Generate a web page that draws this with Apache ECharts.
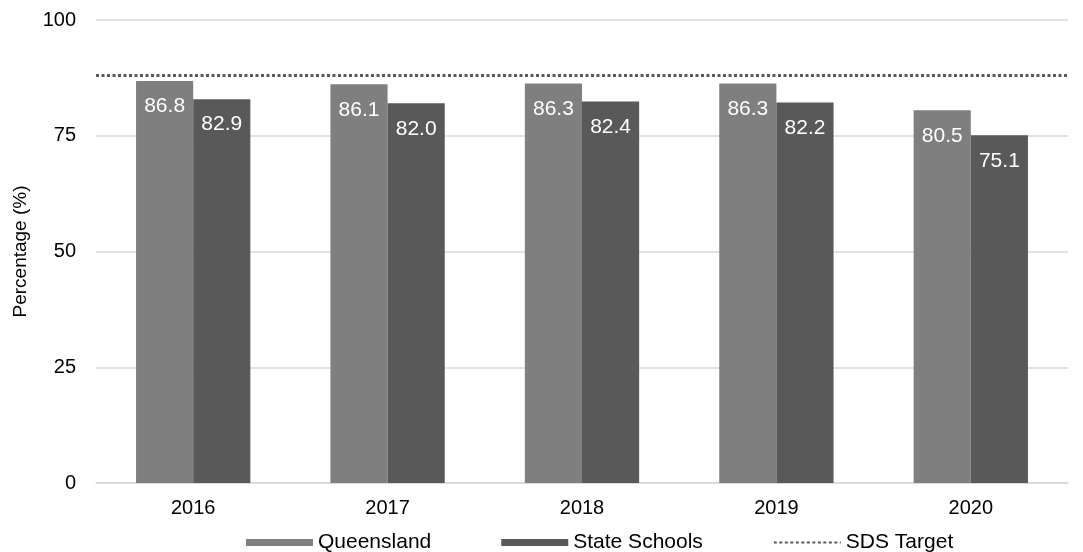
<!DOCTYPE html>
<html>
<head>
<meta charset="utf-8">
<script src="https://cdn.jsdelivr.net/npm/echarts@6/dist/echarts.min.js"></script>
<style>
  html, body { margin: 0; padding: 0; background: #fff; }
  #chart { width: 1083px; height: 552px; }
</style>
</head>
<body>
<div id="chart"></div>
<script>
var years = ['2016', '2017', '2018', '2019', '2020'];
var queensland = [86.8, 86.1, 86.3, 86.3, 80.5];
var stateSchools = [82.9, 82.0, 82.4, 82.2, 75.1];
var sdsTarget = 88;
var yTicks = [0, 25, 50, 75, 100];

var chart = echarts.init(document.getElementById('chart'));
var font = 'Liberation Sans, Arial, sans-serif';

// white value labels sitting just under the bar top
var barLabel = {
    show: true,
    position: 'insideTop',
    distance: 15,
    color: '#fff',
    fontSize: 21,
    fontFamily: font,
    formatter: function (p) { return p.value.toFixed(1); }
};

var option = {
    animation: false,
    textStyle: { fontFamily: font },
    grid: { left: 96, right: 15, top: 20, bottom: 69 },
    legend: {
        left: 241,
        top: 527,
        itemWidth: 67,
        itemHeight: 7,
        itemGap: 70,
        textStyle: { fontSize: 21, color: '#000', fontFamily: font },
        data: [
            { name: 'Queensland', icon: 'rect' },
            { name: 'State Schools', icon: 'rect' },
            { name: 'SDS Target' }
        ]
    },
    xAxis: {
        type: 'category',
        data: years,
        axisLine: { lineStyle: { color: '#d9d9d9', width: 1.5 } },
        axisTick: { show: false },
        axisLabel: { color: '#000', fontSize: 20, margin: 15 }
    },
    yAxis: {
        type: 'value',
        min: yTicks[0],
        max: yTicks[yTicks.length - 1],
        interval: 25,
        name: 'Percentage (%)',
        nameLocation: 'middle',
        nameGap: 66,
        nameTextStyle: { color: '#000', fontSize: 19 },
        axisLine: { show: false },
        axisTick: { show: false },
        axisLabel: { color: '#000', fontSize: 20, margin: 20 },
        splitLine: { lineStyle: { color: '#d9d9d9', width: 1.5 } }
    },
    series: [
        {
            name: 'Queensland',
            type: 'bar',
            data: queensland,
            barWidth: '29.4%',
            barGap: '0%',
            itemStyle: { color: '#7f7f7f' },
            label: barLabel
        },
        {
            name: 'State Schools',
            type: 'bar',
            data: stateSchools,
            barWidth: '29.4%',
            itemStyle: { color: '#595959' },
            label: barLabel
        },
        {
            name: 'SDS Target',
            type: 'line',
            data: [],
            symbol: 'none',
            showSymbol: false,
            itemStyle: { color: '#595959', opacity: 0 },
            lineStyle: { color: '#595959', width: 3, type: [3, 2.5] },
            markLine: {
                silent: true,
                symbol: 'none',
                label: { show: false },
                lineStyle: { color: '#595959', width: 3, type: [3, 2.5], opacity: 1 },
                data: [{ yAxis: sdsTarget }]
            }
        }
    ]
};
chart.setOption(option);
</script>
</body>
</html>
